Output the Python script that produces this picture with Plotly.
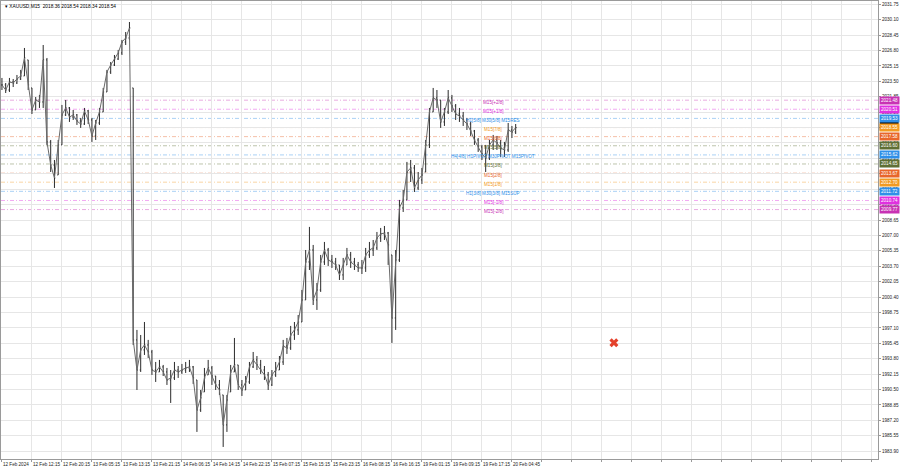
import plotly.graph_objects as go

# ---- price data (hourly-aggregated bars) ----
close = [2023.11, 2022.57, 2023.43, 2023.32, 2023.75, 2024.07, 2026.00, 2023.11, 2020.43, 2021.50,
         2021.29, 2025.79, 2017.01, 2014.54, 2013.15, 2016.69, 2019.90, 2020.65, 2019.68, 2019.90,
         2019.25, 2018.93, 2020.33, 2019.36, 2017.65, 2019.04, 2020.22, 2022.36, 2024.50, 2025.25,
         2025.89, 2026.54, 2027.71, 2028.14, 2029.21, 1995.81, 1992.59, 1994.74, 1995.27, 1994.52,
         1992.59, 1992.38, 1992.92, 1992.38, 1991.52, 1991.74, 1992.59, 1992.38, 1992.59, 1992.81,
         1992.92, 1991.74, 1988.31, 1989.60, 1991.74, 1992.81, 1991.95, 1990.99, 1990.45, 1986.71,
         1989.38, 1992.38, 1993.13, 1990.99, 1990.45, 1991.31, 1992.92, 1993.67, 1993.13, 1992.59,
         1992.06, 1990.99, 1992.06, 1992.59, 1993.45, 1995.16, 1994.95, 1996.34, 1996.88, 1997.73,
         2000.09, 2004.16, 2005.44, 2000.09, 2001.16, 2004.16, 2005.44, 2004.37, 2004.16, 2003.84,
         2002.77, 2003.84, 2004.91, 2004.16, 2003.84, 2003.52, 2003.52, 2004.91, 2005.44, 2005.66,
         2006.73, 2007.16, 2007.26, 2005.98, 1998.16, 2004.37, 2009.94, 2010.80, 2013.79, 2014.22,
         2012.08, 2012.94, 2013.47, 2016.69, 2020.22, 2021.72, 2021.50, 2019.15, 2020.22, 2021.72,
         2020.86, 2020.00, 2019.79, 2019.36, 2018.93, 2018.18, 2017.22, 2016.47, 2015.72, 2015.29,
         2016.69, 2017.22, 2016.90, 2016.36, 2016.15, 2018.29, 2018.08, 2018.54]
high = [2023.86, 2023.32, 2023.86, 2023.75, 2024.18, 2024.72, 2027.07, 2025.79, 2022.79, 2021.82,
        2022.04, 2027.39, 2026.00, 2017.22, 2015.08, 2017.22, 2020.97, 2021.50, 2020.75, 2020.43,
        2020.00, 2019.58, 2020.65, 2020.43, 2019.58, 2019.36, 2020.65, 2022.79, 2024.72, 2025.57,
        2026.32, 2026.86, 2027.93, 2028.78, 2029.85, 2022.79, 1996.88, 1996.34, 1997.73, 1995.81,
        1994.74, 1993.45, 1993.67, 1993.13, 1992.81, 1992.59, 1993.45, 1993.02, 1993.24, 1993.45,
        1993.67, 1993.02, 1991.52, 1990.45, 1992.81, 1993.67, 1993.02, 1991.95, 1991.52, 1989.92,
        1989.92, 1993.13, 1996.02, 1993.13, 1991.52, 1991.95, 1993.45, 1994.52, 1994.09, 1993.67,
        1993.02, 1992.38, 1992.59, 1993.45, 1994.09, 1995.81, 1996.02, 1997.31, 1997.73, 1998.48,
        2001.16, 2005.44, 2007.91, 2005.98, 2001.91, 2004.91, 2006.30, 2005.66, 2004.91, 2004.59,
        2003.84, 2004.59, 2005.66, 2005.23, 2004.59, 2004.16, 2004.37, 2005.66, 2006.30, 2006.51,
        2007.37, 2007.80, 2008.01, 2007.37, 2004.91, 2005.44, 2010.80, 2011.87, 2014.87, 2015.08,
        2014.54, 2013.79, 2014.22, 2017.22, 2020.65, 2022.79, 2022.57, 2021.50, 2020.65, 2022.57,
        2022.04, 2021.07, 2020.65, 2020.22, 2019.58, 2019.15, 2018.29, 2017.43, 2016.69, 2016.69,
        2017.22, 2017.76, 2017.65, 2017.22, 2017.01, 2019.04, 2018.72, 2018.93]
low = [2022.57, 2022.25, 2022.36, 2022.89, 2023.22, 2023.64, 2024.07, 2022.57, 2020.00, 2020.43,
       2020.65, 2020.65, 2016.69, 2013.79, 2012.08, 2013.47, 2016.69, 2019.79, 2019.15, 2019.36,
       2018.83, 2018.51, 2018.83, 2018.93, 2017.01, 2017.22, 2018.83, 2020.22, 2022.36, 2024.29,
       2025.14, 2025.79, 2026.32, 2027.39, 2027.93, 1995.27, 1990.45, 1992.38, 1994.20, 1993.88,
       1992.06, 1991.31, 1992.38, 1991.95, 1990.99, 1989.06, 1991.52, 1991.74, 1992.17, 1992.27,
       1992.38, 1991.10, 1985.96, 1988.10, 1990.24, 1992.06, 1990.99, 1990.45, 1989.92, 1984.35,
       1985.96, 1990.24, 1992.38, 1990.45, 1989.81, 1990.45, 1991.10, 1992.81, 1992.59, 1992.17,
       1991.52, 1990.45, 1990.88, 1991.85, 1992.59, 1993.13, 1994.31, 1994.74, 1995.81, 1996.34,
       1997.73, 2000.09, 2003.30, 1999.55, 1999.02, 2000.95, 2003.84, 2003.73, 2003.52, 2003.30,
       2002.23, 2002.23, 2003.84, 2003.52, 2003.30, 2003.09, 2002.87, 2003.09, 2004.59, 2004.80,
       2005.44, 2006.30, 2006.51, 2003.84, 1995.49, 1996.88, 2004.16, 2009.51, 2010.80, 2012.72,
       2011.65, 2011.87, 2012.51, 2013.79, 2016.36, 2020.22, 2020.65, 2018.51, 2018.72, 2020.00,
       2020.22, 2019.36, 2019.15, 2018.72, 2018.29, 2017.65, 2016.69, 2015.94, 2015.08, 2013.79,
       2015.08, 2016.15, 2016.15, 2015.40, 2015.40, 2015.94, 2017.43, 2017.86]

# ---- Murrey math levels ----
levels = [2021.48, 2020.51, 2019.53, 2018.55, 2017.58, 2016.60, 2015.62,
          2014.65, 2013.67, 2012.70, 2011.72, 2010.74, 2009.77]
level_names = ["M15[+2/8]", "M15[+1/8]", "H1[5/8] M30[5/8] M15RES", "M15[7/8]", "M15[6/8]",
               "M15[5/8]", "H4[4/8] H1PIVOT M30PIVOT M15PIVOT", "M15[3/8]", "M15[2/8]",
               "M15[1/8]", "H1[3/8] M30[3/8] M15SUP", "M15[-1/8]", "M15[-2/8]"]
level_colors = ["#c832b4", "#e030e0", "#2f8fe8", "#f29a22", "#e8662a", "#5f6f35", "#2f8fe8",
                "#5f6f35", "#e8662a", "#f29a22", "#2f8fe8", "#e030e0", "#c832b4"]

# ---- axis labels ----
x_labels = ["12 Feb 2024", "12 Feb 12:15", "12 Feb 20:15", "13 Feb 05:15", "13 Feb 13:15",
            "13 Feb 21:15", "14 Feb 06:15", "14 Feb 14:15", "14 Feb 22:15", "15 Feb 07:15",
            "15 Feb 15:15", "15 Feb 23:15", "16 Feb 08:15", "16 Feb 16:15", "19 Feb 01:15",
            "19 Feb 09:15", "19 Feb 17:15", "20 Feb 04:45"]
y_ticks = [2031.75, 2030.10, 2028.45, 2026.80, 2025.15, 2023.50, 2021.85, 2020.20, 2018.55,
           2016.90, 2015.25, 2013.60, 2011.95, 2010.30, 2008.65, 2007.00, 2005.35, 2003.70,
           2002.05, 2000.40, 1998.75, 1997.10, 1995.45, 1993.80, 1992.15, 1990.50, 1988.85,
           1987.20, 1985.55, 1983.90]

header = "▾ XAUUSD,M15  2018.36 2018.54 2018.34 2018.54"
current_price = 2018.54
marker_x = [163.2]
marker_y = [1995.5]

n = len(close)
xs = list(range(n))
opens = [close[0]] + [min(max(close[i - 1], low[i]), high[i]) for i in range(1, n)]

FONT = "Liberation Sans"
FS = 4.6
fig = go.Figure()
# thin connecting path through the closes, so the dense bars read as one band
fig.add_trace(go.Scatter(x=xs, y=close, mode="lines", line=dict(color="#6a6a6a", width=1),
                         hoverinfo="skip", showlegend=False))
fig.add_trace(go.Ohlc(x=xs, open=opens, high=high, low=low, close=close,
                      increasing=dict(line=dict(color="#2a2a2a", width=1)),
                      decreasing=dict(line=dict(color="#2a2a2a", width=1)),
                      tickwidth=0.25, hoverinfo="skip", showlegend=False))
fig.add_trace(go.Scatter(x=marker_x, y=marker_y, mode="markers",
                         marker=dict(symbol="x", size=8, color="#e4412b", line=dict(width=0)),
                         hoverinfo="skip", showlegend=False))

for lv, nm, col in zip(levels, level_names, level_colors):
    fig.add_shape(type="line", xref="paper", x0=0, x1=1, yref="y", y0=lv, y1=lv,
                  line=dict(color=col, width=1, dash="4px,2px,1px,2px"), opacity=0.4,
                  layer="below")
    fig.add_annotation(x=131, y=lv, xref="x", yref="y", text=nm, showarrow=False,
                       font=dict(family=FONT, size=FS, color=col), yshift=-2)

# current-price (black) tag peeking out above the orange level tag
fig.add_shape(type="rect", xref="paper", x0=1.002, x1=1.0235, yref="y",
              y0=current_price - 0.3, y1=current_price + 0.62,
              fillcolor="#000000", line=dict(width=0), layer="above")
for lv, col in zip(levels, level_colors):
    fig.add_annotation(xref="paper", x=1, y=lv, yref="y", text=f"{lv:.2f}", showarrow=False,
                       xanchor="left", xshift=1, bgcolor=col,
                       font=dict(family=FONT, size=FS, color="#ffffff"), borderpad=1)

fig.add_annotation(xref="paper", yref="paper", x=0, y=1, xanchor="left", yanchor="top",
                   xshift=2, yshift=-1, text=header, showarrow=False,
                   font=dict(family=FONT, size=4.8, color="#000000"))

grid_vals = list(range(0, 240, 8))
grid_text = x_labels + [""] * (len(grid_vals) - len(x_labels))

fig.update_layout(
    width=900, height=468, margin=dict(l=1, r=22, t=1, b=9, autoexpand=False),
    paper_bgcolor="#ffffff", plot_bgcolor="#ffffff",
    xaxis=dict(range=[-0.25, 233.62], tickvals=grid_vals, ticktext=grid_text, tickangle=0,
               ticklabelposition="outside right", showgrid=True, gridcolor="#e6e6e6",
               gridwidth=1, zeroline=False, showline=True, linecolor="#9a9a9a", mirror=True,
               ticks="outside", ticklen=2, tickcolor="#9a9a9a", rangeslider=dict(visible=False),
               automargin=False, tickfont=dict(family=FONT, size=FS, color="#222222")),
    yaxis=dict(range=[1983.06, 2032.10], side="right", tickvals=y_ticks,
               ticktext=[f"{v:.2f}" for v in y_ticks], showgrid=True, gridcolor="#e6e6e6",
               gridwidth=1, zeroline=False, showline=True, linecolor="#9a9a9a", mirror=True,
               ticks="outside", ticklen=2, tickcolor="#9a9a9a", automargin=False,
               tickfont=dict(family=FONT, size=FS, color="#222222")),
)

fig.write_html("out.html", config={"displayModeBar": False},
               post_script="document.body.style.margin='0';document.body.style.overflow='hidden';")
